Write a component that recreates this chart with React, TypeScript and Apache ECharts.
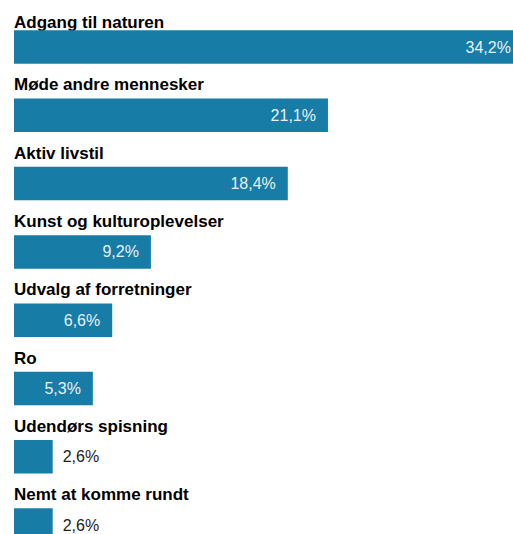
import React, { useEffect, useRef } from "react";
import * as echarts from "echarts";

const categories = [
  "Adgang til naturen",
  "Møde andre mennesker",
  "Aktiv livstil",
  "Kunst og kulturoplevelser",
  "Udvalg af forretninger",
  "Ro",
  "Udendørs spisning",
  "Nemt at komme rundt",
];
const values = [34.2, 21.1, 18.4, 9.2, 6.6, 5.3, 2.6, 2.6];

const BAR_COLOR = "#177ca6";
const FONT = "'Liberation Sans', Arial, Helvetica, sans-serif";

export default function App() {
  const ref = useRef<HTMLDivElement>(null);

  useEffect(() => {
    if (!ref.current) return;
    const chart = echarts.init(ref.current, undefined, { renderer: "svg" });
    const fmt = (v: number) => v.toFixed(1).replace(".", ",") + "%";
    chart.setOption({
      animation: false,
      backgroundColor: "#ffffff",
      grid: { left: 14, top: 12.85, width: 520.8, height: 546.4, containLabel: false },
      xAxis: { type: "value", min: 0, max: 35, show: false },
      yAxis: {
        type: "category",
        inverse: true,
        data: categories,
        axisLine: { show: false },
        axisTick: { show: false },
        splitLine: { show: false },
        axisLabel: {
          inside: true,
          interval: 0,
          showMinLabel: true,
          showMaxLabel: true,
          margin: 0,
          align: "left",
          verticalAlign: "bottom",
          fontFamily: FONT,
          fontWeight: "bold",
          fontSize: 17,
          color: "#000000",
          formatter: (v: string, i: number) => (i === 0 ? `{a|${v}}` : `{b|${v}}`),
          rich: {
            a: { fontFamily: FONT, fontWeight: "bold", fontSize: 17, color: "#000", padding: [0, 0, 16, 0] },
            b: { fontFamily: FONT, fontWeight: "bold", fontSize: 17, color: "#000", padding: [0, 0, 22, 0] },
          },
        },
      },
      series: [
        {
          type: "bar",
          barWidth: 33.5,
          itemStyle: { color: BAR_COLOR },
          data: values.map((v) => ({
            value: v,
            label:
              v < 4
                ? { position: "right", distance: 10, color: "#222222" }
                : undefined,
          })),
          label: {
            show: true,
            position: "insideRight",
            distance: 12,
            fontFamily: FONT,
            fontSize: 16,
            color: "#e8f1f6",
            formatter: (p: any) => fmt(p.value),
          },
        },
      ],
    });
    return () => chart.dispose();
  }, []);

  return (
    <div
      ref={ref}
      style={{
        position: "fixed",
        left: 0,
        top: 0,
        width: 540,
        height: 570,
        background: "#ffffff",
      }}
    />
  );
}
